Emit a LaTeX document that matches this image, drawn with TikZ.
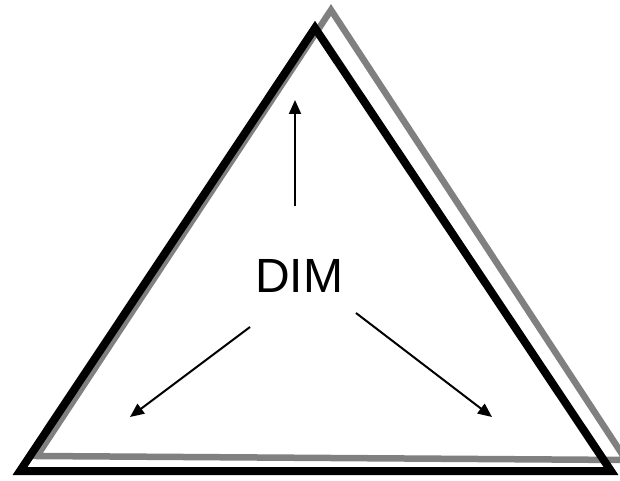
\documentclass[tikz,border=0pt]{standalone}
\usepackage{fontspec}
\setmainfont{Liberation Sans}
\usetikzlibrary{arrows.meta}
\begin{document}
\begin{tikzpicture}[x=1pt,y=-1pt,
  shadowtri/.style={draw={rgb,255:red,128;green,128;blue,128},line width=6.5pt,line join=miter},
  maintri/.style={draw=black,line width=8pt,line join=miter},
  arr/.style={draw=black,line width=2pt,-{Triangle[length=14pt,width=12pt]}}]
\useasboundingbox (0,0) rectangle (620,481);
\coordinate (g1) at (331,10);
\coordinate (g2) at (37,456);
\coordinate (g3) at (626,460);
\draw[shadowtri] (g1) -- (g2) -- (g3) -- cycle;
\coordinate (b1) at (315,28);
\coordinate (b2) at (20,471);
\coordinate (b3) at (611,471);
\draw[maintri] (b1) -- (b2) -- (b3) -- cycle;
\node[font=\fontsize{48}{48}\selectfont,inner sep=0pt] (dim) at (299,276) {DIM};
\coordinate (us) at (295,206);
\coordinate (ue) at (295,100);
\coordinate (ls) at (250,327);
\coordinate (le) at (130,417);
\coordinate (rs) at (356,313);
\coordinate (re) at (492,417);
\draw[arr] (us) -- (ue);
\draw[arr] (ls) -- (le);
\draw[arr] (rs) -- (re);
\end{tikzpicture}
\end{document}
